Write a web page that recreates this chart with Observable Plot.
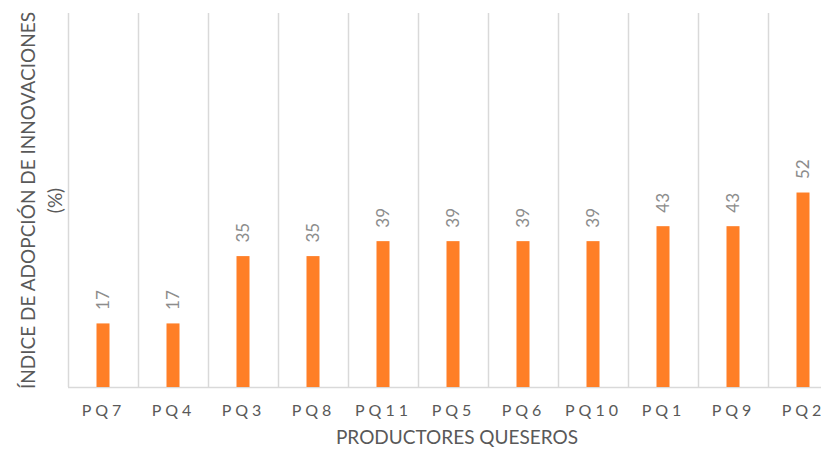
<!DOCTYPE html>
<html>
<head>
<meta charset="utf-8">
<script src="https://cdn.jsdelivr.net/npm/d3@7"></script>
<script src="https://cdn.jsdelivr.net/npm/@observablehq/plot@0.6"></script>
<style>
  html, body { margin: 0; padding: 0; background: #fff; overflow: hidden; }
  #chart svg { overflow: hidden; display: block; }
  g[aria-label="x-axis tick label"] text { letter-spacing: 4px; }
</style>
</head>
<body>
<div id="chart"></div>
<script>
const categories = ["PQ7", "PQ4", "PQ3", "PQ8", "PQ11", "PQ5", "PQ6", "PQ10", "PQ1", "PQ9", "PQ2"];
const values = [17, 17, 35, 35, 39, 39, 39, 39, 43, 43, 52];
const yTitle1 = "ÍNDICE DE ADOPCIÓN DE INNOVACIONES";
const yTitle2 = "(%)";
const xTitle = "PRODUCTORES QUESEROS";

const data = categories.map((c, i) => ({cat: c, value: values[i]}));
const bandStep = 70;

const chart = Plot.plot({
  width: 821,
  height: 450,
  marginLeft: 68,
  marginTop: 13,
  marginBottom: 63,
  marginRight: 0,
  style: {fontFamily: "Lato, 'Open Sans', sans-serif", background: "#fff"},
  x: {domain: categories, range: [68, 68 + bandStep * categories.length], padding: 0, label: null},
  y: {domain: [0, 100], axis: null},
  marks: [
    Plot.ruleX(categories, {x: d => d, dx: -bandStep / 2, y1: 0, y2: 100, stroke: "#d9d9d9", strokeWidth: 1.5}),
    Plot.ruleY([0], {stroke: "#d9d9d9", strokeWidth: 1.5}),
    Plot.barY(data, {x: "cat", y: "value", fill: "#ff7f27", insetLeft: 28.5, insetRight: 28.5}),
    Plot.text(data, {x: "cat", y: "value", text: d => String(d.value), rotate: -90, textAnchor: "start", dy: -14, fill: "#8c8c8c", fontSize: 17}),
    Plot.axisX({tickSize: 0, tickPadding: 17, fontSize: 16, fill: "#595959", label: null}),
    Plot.text([yTitle1], {frameAnchor: "left", textAnchor: "middle", dx: -40, rotate: -90, fontSize: 19, fill: "#595959"}),
    Plot.text([yTitle2], {frameAnchor: "left", textAnchor: "middle", dx: -13, rotate: -90, fontSize: 19, fill: "#595959"}),
    Plot.text([xTitle], {frameAnchor: "bottom", dx: 12, dy: 56, fontSize: 19, fill: "#595959"})
  ]
});
document.getElementById("chart").appendChild(chart);
</script>
</body>
</html>
